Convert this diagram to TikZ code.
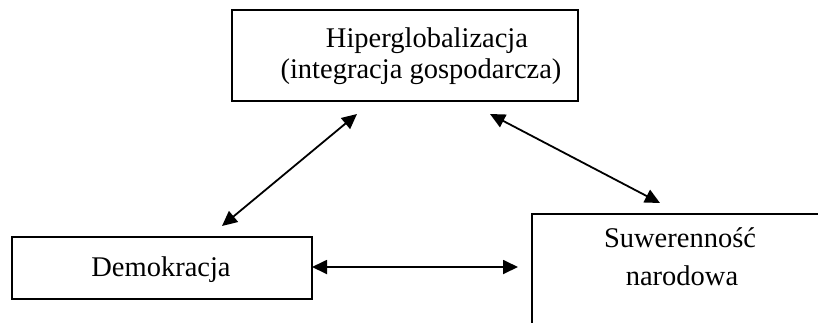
\documentclass[tikz,border=0pt]{standalone}
\usepackage{fontspec}
\setmainfont{Liberation Serif}
\usetikzlibrary{arrows.meta}
\begin{document}
\begin{tikzpicture}[x=1pt,y=-1pt,
  box/.style={draw,line width=2pt,inner sep=0pt},
  lbl/.style={font=\fontsize{28.5}{32}\selectfont,anchor=base,inner sep=0pt},
  link/.style={line width=1.8pt,{Triangle[length=15pt,width=14pt]}-{Triangle[length=15pt,width=14pt]}}]
\useasboundingbox (0,0) rectangle (818,322);
\clip (0,0) rectangle (818,322);
% boxes
\node[box,minimum width=346pt,minimum height=91pt] (hip) at (405,55.5) {};
\node[box,minimum width=300pt,minimum height=62pt] (dem) at (162,268) {};
\node[box,minimum width=320pt,minimum height=140pt] (suw) at (692,284) {};
% labels
\node[lbl] (t1) at (427,47) {Hiperglobalizacja};
\node[lbl] (t2) at (421,78) {(integracja gospodarcza)};
\node[lbl] (t3) at (161,276) {Demokracja};
\node[lbl] (t4) at (680,247) {Suwerenność};
\node[lbl] (t5) at (682,285) {narodowa};
% connector ends
\coordinate (a1) at (222,226);
\coordinate (a2) at (357,114);
\coordinate (b1) at (490,114);
\coordinate (b2) at (660,203);
\coordinate (c1) at (312,267);
\coordinate (c2) at (518,267);
\draw[link] (a1) -- (a2);
\draw[link] (b1) -- (b2);
\draw[link] (c1) -- (c2);
\end{tikzpicture}
\end{document}
